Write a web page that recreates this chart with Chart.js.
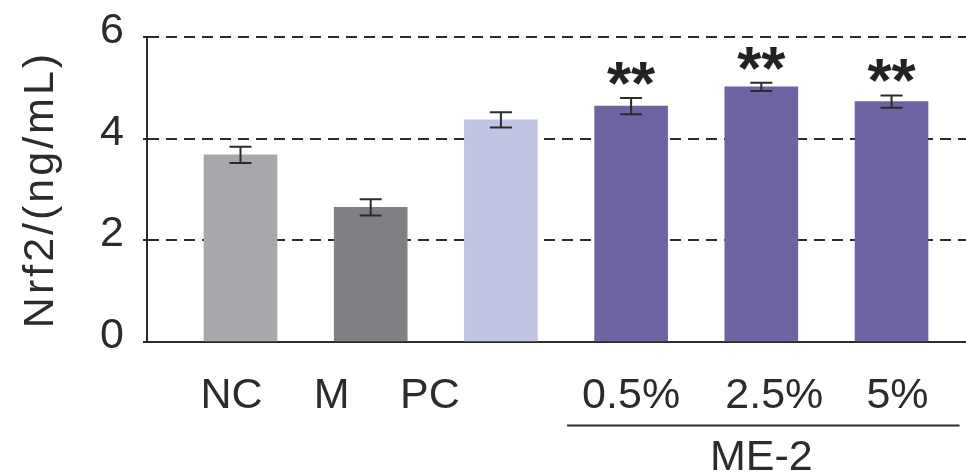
<!DOCTYPE html>
<html>
<head>
<meta charset="utf-8">
<script src="https://cdn.jsdelivr.net/npm/chart.js@4.4.1/dist/chart.umd.min.js"></script>
<style>
  html, body { margin: 0; padding: 0; background: #fff; }
  #wrap { width: 966px; height: 472px; }
</style>
</head>
<body>
<div id="wrap"><canvas id="nrf2Chart"></canvas></div>
<script>
// values
const groups = ['NC', 'M', 'PC', '0.5%', '2.5%', '5%'];
const means = [3.68, 2.65, 4.37, 4.64, 5.02, 4.73];
const errors = [0.16, 0.16, 0.15, 0.16, 0.08, 0.12];
const stars = ['', '', '', '**', '**', '**'];
const barColors = ['#a7a8ac', '#7f8083', '#c1c4e2', '#6f63a2', '#6f63a2', '#6f63a2'];
const yTicks = [0, 2, 4, 6];
const yTitle = 'Nrf2/(ng/mL)';
const groupName = 'ME-2';
const groupMembers = [3, 4, 5];

const FONT = '"Liberation Sans", Arial, sans-serif';
const INK = '#2b2b2b';

// label nudges (px) so the category names sit where the original put them
const labelShift = [-9, -39, -71, 0, 13, 6];

const annotations = {
    id: 'annotations',
    afterDatasetsDraw(chart) {
        const { ctx } = chart;
        const x = chart.scales.x, y = chart.scales.y;
        ctx.save();
        ctx.strokeStyle = INK;
        ctx.lineWidth = 2;
        means.forEach((m, i) => {
            const cx = x.getPixelForValue(i);
            const top = y.getPixelForValue(m + errors[i]);
            const bot = y.getPixelForValue(m - errors[i]);
            ctx.beginPath();
            ctx.moveTo(cx, top); ctx.lineTo(cx, bot);
            ctx.moveTo(cx - 11, top); ctx.lineTo(cx + 11, top);
            ctx.moveTo(cx - 11, bot); ctx.lineTo(cx + 11, bot);
            ctx.stroke();

            if (stars[i]) {
                ctx.font = 'bold 62px ' + FONT;
                ctx.fillStyle = '#222';
                ctx.textAlign = 'center';
                ctx.textBaseline = 'alphabetic';
                const mt = ctx.measureText(stars[i]);
                // bottom of the glyph ink sits ~13px above the error cap
                ctx.fillText(stars[i], cx, top - 13 - mt.actualBoundingBoxDescent);
            }
        });
        ctx.restore();
    },
    afterDraw(chart) {
        const { ctx, chartArea } = chart;
        const x = chart.scales.x;
        ctx.save();
        ctx.fillStyle = INK;
        ctx.font = '43px ' + FONT;
        ctx.textAlign = 'center';
        ctx.textBaseline = 'alphabetic';
        groups.forEach((g, i) => {
            ctx.fillText(g, x.getPixelForValue(i) + labelShift[i], 408);
        });

        // ME-2 bracket
        const first = x.getPixelForValue(groupMembers[0]);
        const last = x.getPixelForValue(groupMembers[groupMembers.length - 1]);
        ctx.strokeStyle = INK;
        ctx.lineWidth = 2;
        ctx.beginPath();
        ctx.moveTo(first - 64, 425.5);
        ctx.lineTo(last + 68, 425.5);
        ctx.stroke();
        ctx.fillText(groupName, (first + last) / 2, 470);

        // y title, a bit letter-spaced like the original
        ctx.translate(53, (chartArea.top + chartArea.bottom) / 2);
        ctx.rotate(-Math.PI / 2);
        ctx.letterSpacing = '3px';
        ctx.fillText(yTitle, 0, 0);
        ctx.restore();
    }
};

new Chart(document.getElementById('nrf2Chart'), {
    type: 'bar',
    data: {
        datasets: [{
            data: means.map((v, i) => ({ x: i, y: v })),
            backgroundColor: barColors,
            borderWidth: 0,
            barThickness: 73
        }]
    },
    options: {
        responsive: true,
        maintainAspectRatio: false,
        animation: false,
        layout: { padding: { top: 37, right: 0, bottom: 0, left: 0 } },
        plugins: {
            legend: { display: false },
            tooltip: { enabled: false }
        },
        scales: {
            x: {
                type: 'linear',
                offset: false,
                min: -0.718,
                max: 5.572,
                ticks: { display: false },
                grid: { display: false, drawTicks: false, offset: false },
                border: { color: INK, width: 2 },
                afterFit: s => { s.height = 130; s.paddingLeft = 0; s.paddingRight = 0; }
            },
            y: {
                min: 0,
                max: 6,
                afterBuildTicks: s => { s.ticks = yTicks.map(v => ({ value: v })); },
                ticks: {
                    font: { family: FONT, size: 43 },
                    color: INK,
                    padding: 19,
                    labelOffset: -6
                },
                grid: {
                    color: c => (c.tick && c.tick.value === 0) ? 'rgba(0,0,0,0)' : INK,
                    lineWidth: 2,
                    tickLength: 4,
                    tickColor: INK
                },
                border: { color: INK, width: 2, dash: [11, 7] },
                afterFit: s => { s.width = 147; s.paddingTop = 0; s.paddingBottom = 0; }
            }
        }
    },
    plugins: [annotations]
});
</script>
</body>
</html>
